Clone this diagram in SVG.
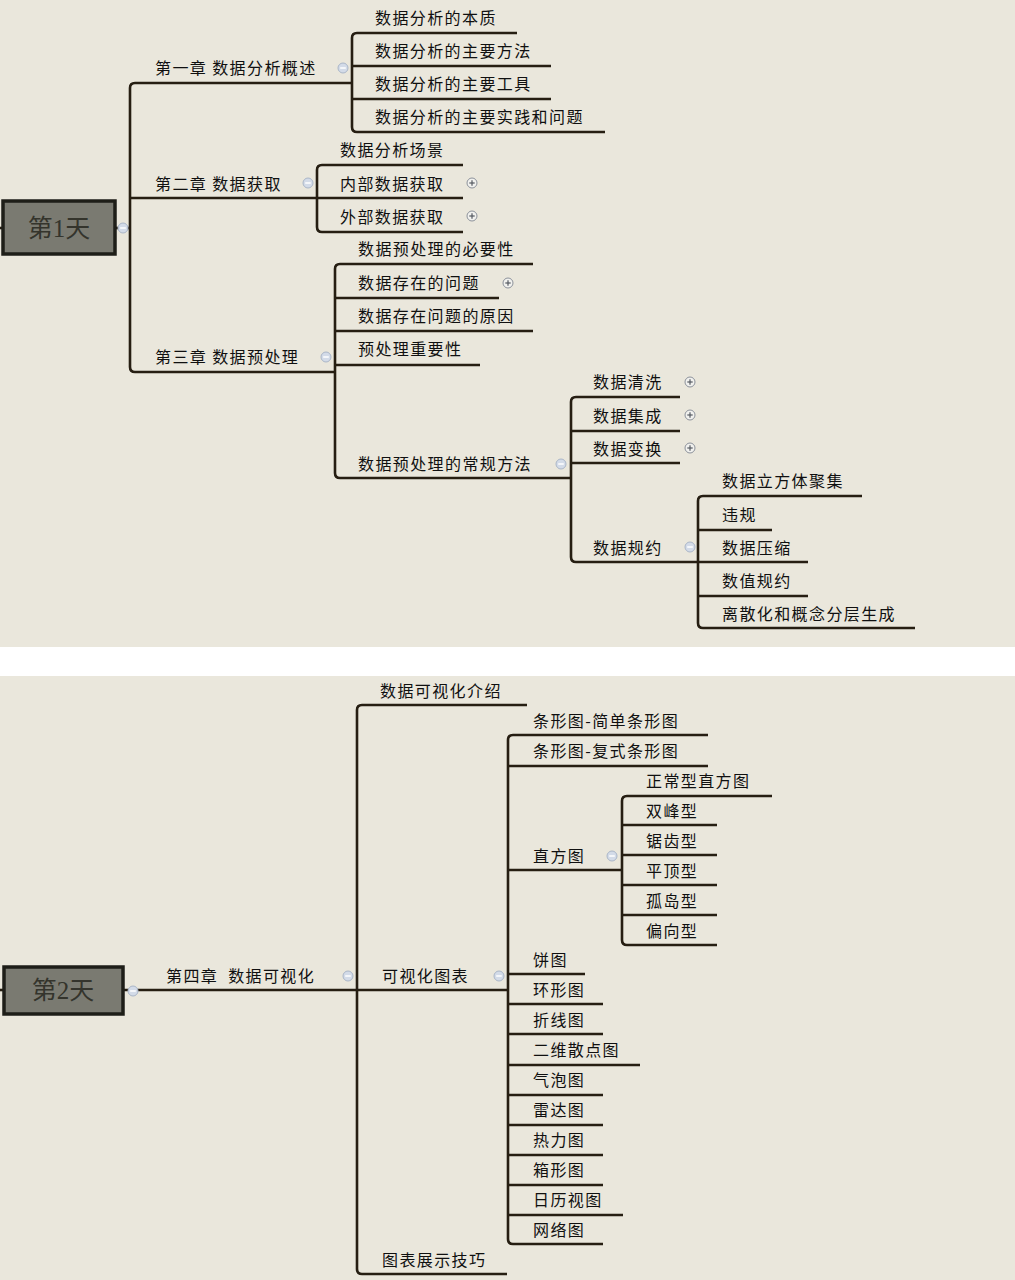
<svg xmlns="http://www.w3.org/2000/svg" width="1015" height="1280" viewBox="0 0 1015 1280">
<style>
.bg{fill:#EAE7DC}
.ln{fill:none;stroke:#261e12;stroke-width:2.6;stroke-linecap:butt}
.t{font-family:"Noto Sans CJK SC","Noto Sans",sans-serif;font-size:16px;letter-spacing:1.4px;fill:#101010}
.rt{font-family:"Liberation Serif","Noto Sans CJK SC",serif;font-size:25px;fill:#34342c;text-anchor:middle}
.rb{fill:#7a7a71;stroke:#1e1e18;stroke-width:3.5}
.mi circle{fill:#d3dbe8;stroke:#aab6c8;stroke-width:1}
.mi line{stroke:#ffffff;stroke-width:1.5}
.pl circle{fill:#f1f1ee;stroke:#8c919a;stroke-width:1}
.pl line{stroke:#555a62;stroke-width:1.2}
</style>
<defs>
<g id="minus" class="mi"><circle r="5"/><line x1="-2.8" y1="0" x2="2.8" y2="0"/></g>
<g id="plus" class="pl"><circle r="5"/><line x1="-2.7" y1="0" x2="2.7" y2="0"/><line x1="0" y1="-2.7" x2="0" y2="2.7"/></g>
</defs>
<rect class="bg" x="0" y="0" width="1015" height="647"/>
<rect x="0" y="647" width="1015" height="29" fill="#ffffff"/>
<rect class="bg" x="0" y="676" width="1015" height="604"/>

<g id="connectors">
<!-- panel 1 -->
<path class="ln" d="M0,228 H3"/>
<path class="ln" d="M115,228 H130"/>
<path class="ln" d="M352,83 H135 Q130,83 130,88 V367 Q130,372 135,372 H335"/>
<path class="ln" d="M130,198 H463"/>
<path class="ln" d="M517,33 H357 Q352,33 352,38 V127 Q352,132 357,132 H605"/>
<path class="ln" d="M352,66 H551"/>
<path class="ln" d="M352,99 H551"/>
<path class="ln" d="M463,165 H322 Q317,165 317,170 V227 Q317,232 322,232 H463"/>
<path class="ln" d="M533,264 H340 Q335,264 335,269 V473 Q335,478 340,478 H571"/>
<path class="ln" d="M335,298 H499"/>
<path class="ln" d="M335,331 H533"/>
<path class="ln" d="M335,365 H480"/>
<path class="ln" d="M680,397 H576 Q571,397 571,402 V557 Q571,562 576,562 H808"/>
<path class="ln" d="M571,431 H680"/>
<path class="ln" d="M571,463 H680"/>
<path class="ln" d="M862,496 H703 Q698,496 698,501 V623 Q698,628 703,628 H915"/>
<path class="ln" d="M698,530 H772"/>
<path class="ln" d="M698,596 H808"/>
<!-- panel 2 -->
<path class="ln" d="M0,990 H4"/>
<path class="ln" d="M123,990 H508"/>
<path class="ln" d="M527,705 H362 Q357,705 357,710 V1269 Q357,1274 362,1274 H507"/>
<path class="ln" d="M708,735 H513 Q508,735 508,740 V1239 Q508,1244 513,1244 H603"/>
<path class="ln" d="M508,766 H708"/>
<path class="ln" d="M508,870 H622"/>
<path class="ln" d="M508,974 H585"/>
<path class="ln" d="M508,1004 H603"/>
<path class="ln" d="M508,1034 H603"/>
<path class="ln" d="M508,1065 H640"/>
<path class="ln" d="M508,1095 H603"/>
<path class="ln" d="M508,1125 H603"/>
<path class="ln" d="M508,1155 H603"/>
<path class="ln" d="M508,1185 H603"/>
<path class="ln" d="M508,1215 H623"/>
<path class="ln" d="M772,796 H627 Q622,796 622,801 V940 Q622,945 627,945 H717"/>
<path class="ln" d="M622,825 H717"/>
<path class="ln" d="M622,855 H717"/>
<path class="ln" d="M622,885 H717"/>
<path class="ln" d="M622,915 H717"/>
</g>

<!-- panel 1 nodes -->
<g id="root1"><rect class="rb" x="3" y="201" width="112" height="53"/><text class="rt" x="59" y="237">第1天</text><use href="#minus" x="123" y="228"/></g>
<g id="ch1"><text class="t" x="155" y="74">第一章 数据分析概述</text><use href="#minus" x="343" y="68"/></g>
<g id="ch1a"><text class="t" x="375" y="24">数据分析的本质</text></g>
<g id="ch1b"><text class="t" x="375" y="57">数据分析的主要方法</text></g>
<g id="ch1c"><text class="t" x="375" y="90">数据分析的主要工具</text></g>
<g id="ch1d"><text class="t" x="375" y="123">数据分析的主要实践和问题</text></g>
<g id="ch2"><text class="t" x="155" y="190">第二章 数据获取</text><use href="#minus" x="308" y="183"/></g>
<g id="ch2a"><text class="t" x="340" y="156">数据分析场景</text></g>
<g id="ch2b"><text class="t" x="340" y="190">内部数据获取</text><use href="#plus" x="472" y="183"/></g>
<g id="ch2c"><text class="t" x="340" y="223">外部数据获取</text><use href="#plus" x="472" y="216"/></g>
<g id="ch3"><text class="t" x="155" y="363">第三章 数据预处理</text><use href="#minus" x="326" y="357"/></g>
<g id="ch3a"><text class="t" x="358" y="255">数据预处理的必要性</text></g>
<g id="ch3b"><text class="t" x="358" y="289">数据存在的问题</text><use href="#plus" x="508" y="283"/></g>
<g id="ch3c"><text class="t" x="358" y="322">数据存在问题的原因</text></g>
<g id="ch3d"><text class="t" x="358" y="355">预处理重要性</text></g>
<g id="ch3e"><text class="t" x="358" y="470">数据预处理的常规方法</text><use href="#minus" x="561" y="464"/></g>
<g id="m1"><text class="t" x="593" y="388">数据清洗</text><use href="#plus" x="690" y="382"/></g>
<g id="m2"><text class="t" x="593" y="422">数据集成</text><use href="#plus" x="690" y="415"/></g>
<g id="m3"><text class="t" x="593" y="455">数据变换</text><use href="#plus" x="690" y="448"/></g>
<g id="m4"><text class="t" x="593" y="554">数据规约</text><use href="#minus" x="690" y="547"/></g>
<g id="r1"><text class="t" x="722" y="487">数据立方体聚集</text></g>
<g id="r2"><text class="t" x="722" y="521">违规</text></g>
<g id="r3"><text class="t" x="722" y="554">数据压缩</text></g>
<g id="r4"><text class="t" x="722" y="587">数值规约</text></g>
<g id="r5"><text class="t" x="722" y="620">离散化和概念分层生成</text></g>

<!-- panel 2 nodes -->
<g id="root2"><rect class="rb" x="4" y="967" width="119" height="47"/><text class="rt" x="63" y="999">第2天</text><use href="#minus" x="133" y="991"/></g>
<g id="ch4"><text class="t" x="166" y="982" xml:space="preserve">第四章  数据可视化</text><use href="#minus" x="348" y="976"/></g>
<g id="v1"><text class="t" x="380" y="697">数据可视化介绍</text></g>
<g id="v2"><text class="t" x="382" y="982">可视化图表</text><use href="#minus" x="499" y="976"/></g>
<g id="v3"><text class="t" x="382" y="1266">图表展示技巧</text></g>
<g id="c1"><text class="t" x="533" y="727">条形图-简单条形图</text></g>
<g id="c2"><text class="t" x="533" y="757">条形图-复式条形图</text></g>
<g id="c3"><text class="t" x="533" y="862">直方图</text><use href="#minus" x="612" y="856"/></g>
<g id="c4"><text class="t" x="533" y="966">饼图</text></g>
<g id="c5"><text class="t" x="533" y="996">环形图</text></g>
<g id="c6"><text class="t" x="533" y="1026">折线图</text></g>
<g id="c7"><text class="t" x="533" y="1056">二维散点图</text></g>
<g id="c8"><text class="t" x="533" y="1086">气泡图</text></g>
<g id="c9"><text class="t" x="533" y="1116">雷达图</text></g>
<g id="c10"><text class="t" x="533" y="1146">热力图</text></g>
<g id="c11"><text class="t" x="533" y="1176">箱形图</text></g>
<g id="c12"><text class="t" x="533" y="1206">日历视图</text></g>
<g id="c13"><text class="t" x="533" y="1236">网络图</text></g>
<g id="h1"><text class="t" x="646" y="787">正常型直方图</text></g>
<g id="h2"><text class="t" x="646" y="817">双峰型</text></g>
<g id="h3"><text class="t" x="646" y="847">锯齿型</text></g>
<g id="h4"><text class="t" x="646" y="877">平顶型</text></g>
<g id="h5"><text class="t" x="646" y="907">孤岛型</text></g>
<g id="h6"><text class="t" x="646" y="937">偏向型</text></g>
</svg>
